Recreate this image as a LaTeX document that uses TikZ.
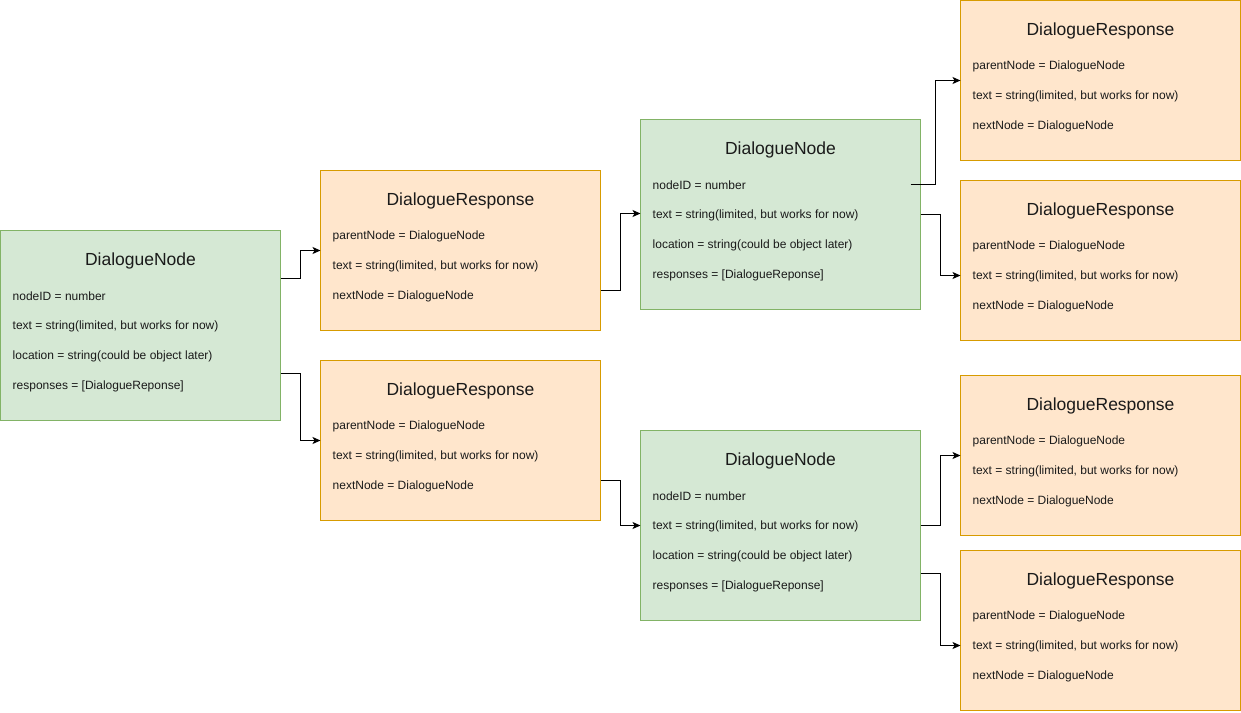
\documentclass[tikz,border=0pt]{standalone}
\usepackage{fontspec}
\setmainfont{Liberation Sans}
\usetikzlibrary{arrows.meta,calc}
\definecolor{gfill}{HTML}{D5E8D4}
\definecolor{gline}{HTML}{82B366}
\definecolor{ofill}{HTML}{FFE6CC}
\definecolor{oline}{HTML}{D79B00}
\definecolor{txt}{HTML}{1A1A1A}
\tikzset{
  dnbox/.style={draw=gline, fill=gfill, line width=1pt, minimum width=280pt, minimum height=190pt, anchor=north west, inner sep=0pt, outer sep=0pt},
  drbox/.style={draw=oline, fill=ofill, line width=1pt, minimum width=280pt, minimum height=160pt, anchor=north west, inner sep=0pt, outer sep=0pt},
  ttl/.style={text=txt, font=\fontsize{17.5}{20}\selectfont, inner sep=0pt, anchor=center},
  attr/.style={text=txt, font=\fontsize{12}{14}\selectfont, inner sep=0pt, anchor=west},
  conn/.style={draw=black, line width=1pt, -{Stealth[length=8pt,width=7pt,inset=2pt]}},
}
\newcommand\mkdn[2]{%
  \node[dnbox] (#1) at (#2) {};
  \node[ttl] (#1-t) at ($(#1.north)+(0,30)$) {DialogueNode};
  \node[attr] (#1-a) at ($(#1.north west)+(12,65.5)$) {nodeID = number};
  \node[attr] (#1-b) at ($(#1.north west)+(12,95.5)$) {text = string(limited, but works for now)};
  \node[attr] (#1-c) at ($(#1.north west)+(12,125.5)$) {location = string(could be object later)};
  \node[attr] (#1-d) at ($(#1.north west)+(12,155.5)$) {responses = [DialogueReponse]};
}
\newcommand\mkdr[2]{%
  \node[drbox] (#1) at (#2) {};
  \node[ttl] (#1-t) at ($(#1.north)+(0,30)$) {DialogueResponse};
  \node[attr] (#1-a) at ($(#1.north west)+(12,65.5)$) {parentNode = DialogueNode};
  \node[attr] (#1-b) at ($(#1.north west)+(12,95.5)$) {text = string(limited, but works for now)};
  \node[attr] (#1-c) at ($(#1.north west)+(12,125.5)$) {nextNode = DialogueNode};
}
\begin{document}
\begin{tikzpicture}[x=1pt,y=-1pt]
\useasboundingbox (0,0) rectangle (1241,712);
\mkdn{n1}{0.5,230.5}
\mkdr{r1}{320.5,170.5}
\mkdr{r2}{320.5,360.5}
\mkdn{n2}{640.5,119.5}
\mkdn{n3}{640.5,430.5}
\mkdr{s1}{960.5,0.5}
\mkdr{s2}{960.5,180.5}
\mkdr{s3}{960.5,375.5}
\mkdr{s4}{960.5,550.5}
% connectors
\coordinate (c1) at ($(n1.north east)+(0,48)$);
\coordinate (c2) at ($(n1.north east)+(0,143)$);
\coordinate (c3) at ($(r1.north east)+(0,120)$);
\coordinate (c4) at ($(r2.north east)+(0,120)$);
\coordinate (c5) at ($(n2.north east)+(-10,65)$);
\coordinate (c6) at ($(n2.north east)+(0,95)$);
\coordinate (c7) at ($(n3.north east)+(0,95)$);
\coordinate (c8) at ($(n3.north east)+(0,143)$);
\draw[conn] (c1) -| ($(c1)!0.5!(r1.west|-c1)$) |- ($(r1.north west)+(0,80)$);
\draw[conn] (c2) -| ($(c2)!0.5!(r2.west|-c2)$) |- ($(r2.north west)+(0,80)$);
\draw[conn] (c3) -| ($(c3)!0.5!(n2.west|-c3)$) |- ($(n2.north west)+(0,94)$);
\draw[conn] (c4) -| ($(c4)!0.5!(n3.west|-c4)$) |- ($(n3.north west)+(0,95)$);
\draw[conn] (c5) -| ($(n2.north east)+(15,0)$) |- ($(s1.north west)+(0,80)$);
\draw[conn] (c6) -| ($(c6)!0.5!(s2.west|-c6)$) |- ($(s2.north west)+(0,95)$);
\draw[conn] (c7) -| ($(c7)!0.5!(s3.west|-c7)$) |- ($(s3.north west)+(0,80)$);
\draw[conn] (c8) -| ($(c8)!0.5!(s4.west|-c8)$) |- ($(s4.north west)+(0,95)$);
\end{tikzpicture}
\end{document}
